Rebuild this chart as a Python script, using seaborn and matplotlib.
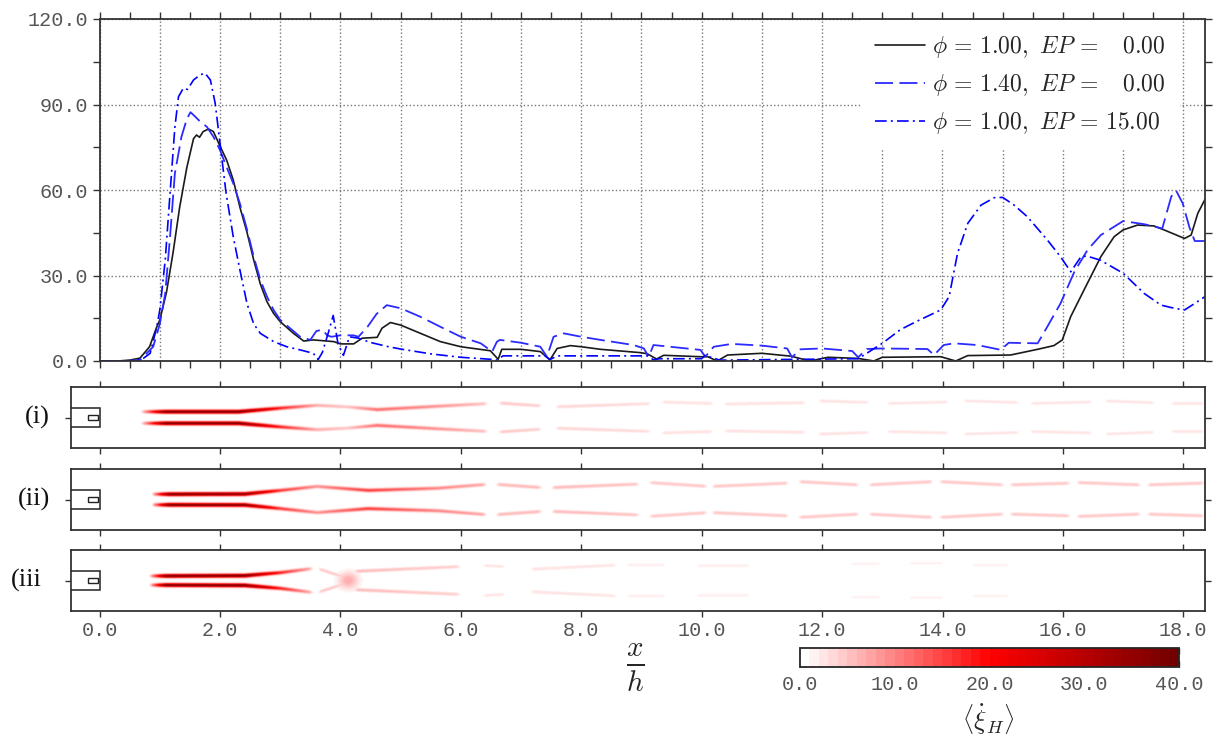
import numpy as np
import matplotlib
matplotlib.use('Agg')
import matplotlib.pyplot as plt
from matplotlib.colors import LinearSegmentedColormap
from matplotlib.patches import Rectangle
from matplotlib.ticker import MultipleLocator, FormatStrFormatter
import seaborn as sns

# ---------------- top panel: values ----------------
x_base = [0, 0.3, 0.5, 0.67, 0.83, 0.95, 1.0, 1.11, 1.22, 1.33,
          1.45, 1.56, 1.61, 1.66, 1.72, 1.81, 1.89, 2.0, 2.11, 2.22,
          2.33, 2.45, 2.56, 2.67, 2.78, 2.89, 3.0, 3.22, 3.39, 3.55,
          3.89, 4.0, 4.22, 4.36, 4.61, 4.69, 4.83, 5.0, 5.33, 5.66,
          6.0, 6.49, 6.62, 6.68, 7.0, 7.32, 7.48, 7.6, 7.82, 8.0,
          8.32, 9.0, 9.1, 9.25, 9.37, 9.98, 10.1, 10.26, 10.43, 11.0,
          11.48, 11.8, 12.1, 12.6, 12.86, 13.0, 13.97, 14.22, 14.42, 15.13,
          15.58, 15.85, 15.99, 16.13, 16.35, 16.63, 16.85, 17.0, 17.24, 17.51,
          17.68, 18.02, 18.13, 18.24, 18.36]
y_base = [0, 0, 0.3, 1, 5, 12, 14.4, 24, 38, 54,
          68, 78, 79.3, 78.5, 80.5, 81.4, 80.5, 75.4, 70.5, 63.5,
          54, 45, 35.4, 27, 20.8, 16.7, 13.8, 9.7, 7, 7.4,
          6.8, 6.0, 6.0, 8, 8.3, 11.5, 13.5, 12.6, 9.7, 6.8,
          5, 3.6, 0.6, 4.1, 4.1, 3.3, 0.4, 4.4, 5.4, 5,
          4.1, 2.9, 2.5, 0.7, 2, 1.5, 1.5, 0, 2.1, 2.7,
          1.7, 0, 1.3, 0.9, 0, 1.3, 1.5, 0, 1.9, 2.1,
          4.1, 5.4, 7.4, 15.6, 24.9, 36.6, 43.6, 46, 47.7, 47.4,
          46, 43, 44.2, 51.8, 56.7]

x_rich = [0, 0.4, 0.67, 0.89, 1.0, 1.09, 1.17, 1.25, 1.36, 1.45,
          1.51, 1.59, 1.67, 1.78, 1.89, 2.0, 2.11, 2.22, 2.33, 2.45,
          2.56, 2.67, 2.78, 2.89, 3.0, 3.22, 3.33, 3.5, 3.6, 3.7,
          3.78, 3.85, 4.0, 4.22, 4.3, 4.45, 4.6, 4.77, 5.0, 5.33,
          5.66, 6.0, 6.33, 6.52, 6.6, 6.65, 7.0, 7.32, 7.43, 7.54,
          7.71, 8.0, 8.32, 8.87, 9.04, 9.12, 9.2, 9.98, 10.06, 10.2,
          10.5, 11.0, 11.42, 11.5, 11.64, 12.0, 12.5, 12.6, 12.74, 13.0,
          13.75, 13.86, 14.02, 14.19, 14.58, 14.97, 15.1, 15.58, 15.74, 15.96,
          16.19, 16.41, 16.63, 17.0, 17.35, 17.65, 17.8, 17.88, 17.99, 18.1,
          18.19, 18.36]
y_rich = [0, 0, 0.3, 5, 13, 23.7, 43.6, 65.8, 78.7, 85,
          87.3, 85.7, 84, 82.2, 78.7, 74, 68, 62.3, 55.3, 46,
          36.6, 28.4, 22.6, 17.9, 14.4, 10.5, 8.5, 7.4, 10.5, 11,
          9, 8.5, 9, 9, 8.5, 12, 16.5, 19.6, 18.5, 15.5,
          12, 8.5, 6.2, 3.3, 6.8, 7.4, 6.4, 5, 1.5, 8.5,
          9.7, 8.5, 7.4, 5.6, 4.4, 1.5, 5.6, 3.9, 1.5, 5,
          6, 5.4, 4.4, 1.3, 4.1, 4.4, 3.5, 1.3, 4.2, 4.4,
          4.2, 2.1, 5.6, 6.2, 5.6, 3.9, 6.4, 6.2, 12, 20.2,
          31.3, 39, 44.2, 49.1, 48, 46.5, 57.7, 59.8, 55.3, 47,
          42.1, 42.1]

x_ep = [0, 0.5, 0.7, 0.84, 0.95, 1.0, 1.09, 1.17, 1.25, 1.31,
        1.39, 1.46, 1.56, 1.67, 1.75, 1.84, 1.92, 2.0, 2.1, 2.22,
        2.33, 2.45, 2.56, 2.67, 2.89, 3.11, 3.33, 3.55, 3.63, 3.7,
        3.8, 3.88, 3.96, 4.05, 4.15, 4.3, 4.5, 4.8, 5.0, 5.5,
        6.0, 6.5, 6.6, 6.7, 7.4, 7.48, 7.6, 9.1, 9.2, 9.3,
        10.0, 10.06, 10.3, 12.6, 13.0, 13.3, 13.58, 13.97, 14.11, 14.25,
        14.42, 14.64, 14.86, 15.0, 15.19, 15.41, 15.74, 15.96, 16.13, 16.3,
        16.4, 16.62, 17.0, 17.35, 17.63, 17.85, 18.02, 18.19, 18.36]
y_ep = [0, 0, 0.5, 2.7, 12, 17.9, 35.4, 58.8, 82, 92.7,
        95.7, 95.3, 98.6, 100.4, 101, 98.6, 90.4, 76.4, 59, 43.6,
        32, 20, 13, 9.7, 6.8, 5, 3.9, 2.7, 0.5, 3,
        10, 16, 6, 2, 8.5, 8, 6.5, 5, 4.2, 2.5,
        1.3, 0.6, 0.3, 1.8, 1.8, 0.5, 1.8, 1.8, 0.4, 0.8,
        0.8, 2, 0.3, 0.8, 6.2, 11, 14, 17.9, 22.6, 37.8,
        48.3, 54.7, 57.3, 57.4, 54.7, 50.6, 42.5, 36.6, 31.3, 36.6,
        36.8, 35.4, 30.8, 23.7, 19.6, 18.5, 17.9, 20.2, 22.6]

labels = [r'$\phi\,=\,1.00,\ EP\,=\ \ \ 0.00$',
          r'$\phi\,=\,1.40,\ EP\,=\ \ \ 0.00$',
          r'$\phi\,=\,1.00,\ EP\,=\,15.00$']

# ---------------- strips: shear-layer segments (x0, x1, y0, y1, val0, val1) ----------------
jet_i = [(0.64, 1.1, 0.19, 0.19, 0, 38), (1.1, 2.3, 0.19, 0.19, 38, 38),
         (2.3, 3.0, 0.19, 0.31, 38, 18), (3.0, 3.6, 0.31, 0.40, 18, 7),
         (3.6, 4.1, 0.40, 0.35, 7, 5), (4.1, 4.6, 0.35, 0.26, 5, 12),
         (4.6, 5.6, 0.26, 0.37, 12, 9), (5.6, 6.45, 0.37, 0.46, 9, 5),
         (6.6, 7.35, 0.48, 0.38, 5, 4), (7.55, 9.17, 0.35, 0.46, 4, 3),
         (9.3, 10.2, 0.51, 0.46, 3, 3), (10.34, 11.74, 0.44, 0.49, 3, 3),
         (11.9, 12.8, 0.55, 0.49, 3, 2.5), (13.04, 14.12, 0.46, 0.51, 2.5, 2.5),
         (14.31, 15.29, 0.55, 0.49, 2.5, 2.5), (15.42, 16.5, 0.46, 0.51, 2.5, 2.5),
         (16.66, 17.54, 0.55, 0.48, 2.5, 2.5), (17.76, 18.36, 0.46, 0.46, 2.5, 2.5)]
jet_ii = [(0.82, 1.15, 0.175, 0.175, 0, 38), (1.15, 2.4, 0.175, 0.18, 38, 36),
          (2.4, 3.0, 0.18, 0.30, 36, 16), (3.0, 3.6, 0.30, 0.43, 16, 9),
          (3.6, 4.45, 0.43, 0.30, 9, 16), (4.45, 5.6, 0.30, 0.37, 16, 10),
          (5.6, 6.43, 0.37, 0.50, 10, 7), (6.56, 7.35, 0.50, 0.39, 6, 6),
          (7.48, 8.97, 0.39, 0.51, 6, 5), (9.1, 10.1, 0.56, 0.43, 5, 5),
          (10.14, 11.45, 0.43, 0.54, 5, 5), (11.58, 12.62, 0.59, 0.48, 5, 5),
          (12.75, 13.85, 0.48, 0.59, 5, 5), (13.92, 15.03, 0.59, 0.48, 5, 5),
          (15.09, 16.13, 0.48, 0.54, 5, 5), (16.2, 17.3, 0.56, 0.48, 5, 5),
          (17.37, 18.36, 0.48, 0.54, 5, 5)]
jet_iii = [(0.78, 1.1, 0.15, 0.15, 0, 38), (1.1, 2.4, 0.15, 0.16, 38, 38),
           (2.4, 3.0, 0.16, 0.26, 38, 18), (3.0, 3.55, 0.26, 0.40, 18, 6),
           (3.6, 4.1, 0.40, 0.08, 5, 4), (4.2, 6.0, 0.30, 0.46, 6, 4),
           (6.33, 6.75, 0.50, 0.45, 2.5, 2.5), (7.13, 8.6, 0.37, 0.51, 3, 2.5),
           (8.71, 9.42, 0.51, 0.51, 2, 2), (9.88, 10.82, 0.49, 0.49, 2, 2),
           (12.42, 13.0, 0.55, 0.55, 1.5, 1.5), (13.4, 14.05, 0.57, 0.57, 1.5, 1.5),
           (14.44, 15.13, 0.51, 0.51, 1.5, 1.5)]
blobs_iii = [(4.12, 0.0, 0.12, 0.2, 7)]
panel_names = ['(i)', '(ii)', '(iii']

X_MIN, X_MAX = -0.48, 18.36
SIG = 0.042


def build_field(segments, blobs=()):
    xs = np.linspace(X_MIN, X_MAX, 1400)
    ys = np.linspace(-1, 1, 241)
    X, Y = np.meshgrid(xs, ys)
    field = np.zeros_like(X)
    n = len(segments)
    for k, (x0, x1, y0, y1, v0, v1) in enumerate(segments):
        t = np.clip((X - x0) / (x1 - x0), 0, 1)
        inside = (X >= x0) & (X <= x1)
        # soften only the ends that sit next to a break in the layer
        open_left = k == 0 or segments[k - 1][1] < x0 - 0.01
        open_right = k == n - 1 or segments[k + 1][0] > x1 + 0.01
        taper = np.ones_like(X)
        if open_left:
            taper = np.minimum(taper, np.clip((X - x0) / 0.08, 0, 1))
        if open_right:
            taper = np.minimum(taper, np.clip((x1 - X) / 0.08, 0, 1))
        yc = y0 + (y1 - y0) * t
        v = (v0 + (v1 - v0) * t) * taper
        for sgn in (1, -1):
            prof = np.where(inside, v * np.exp(-0.5 * ((Y - sgn * yc) / SIG) ** 2), 0)
            field = np.maximum(field, prof)
    for bx, by, rx, ry, bv in blobs:
        field = np.maximum(field, bv * np.exp(-0.5 * (((X - bx) / rx) ** 2 + ((Y - by) / ry) ** 2)))
    return field


sns.set_style('white')
plt.rcParams['mathtext.fontset'] = 'cm'
tick_font = {'family': 'Liberation Mono', 'size': 14.5}
tick_color = '#555555'

cmap = LinearSegmentedColormap.from_list('wr', ['#ffffff', '#ff0000', '#730000'], N=40)

W, H = 1214, 740
fig = plt.figure(figsize=(W / 100, H / 100), dpi=100)

# ---------------- top line plot ----------------
ax = fig.add_axes([99.6 / W, 1 - 361 / H, (1205 - 99.6) / W, 342 / H])
sns.lineplot(x=x_base, y=y_base, ax=ax, color='#1a1a1a', lw=1.2, label=labels[0],
             estimator=None, sort=False)
sns.lineplot(x=x_rich, y=y_rich, ax=ax, color='#2b2bff', lw=1.3, label=labels[1],
             estimator=None, sort=False, linestyle=(0, (10, 3.5)))
sns.lineplot(x=x_ep, y=y_ep, ax=ax, color='#0000ff', lw=1.2, label=labels[2],
             estimator=None, sort=False, linestyle=(0, (7, 2.5, 1.2, 2.5)))
ax.set_xlim(0, X_MAX)
ax.set_ylim(0, 120)
ax.xaxis.set_major_locator(MultipleLocator(1.0))
ax.xaxis.set_minor_locator(MultipleLocator(0.5))
ax.yaxis.set_major_locator(MultipleLocator(30))
ax.yaxis.set_minor_locator(MultipleLocator(15))
ax.yaxis.set_major_formatter(FormatStrFormatter('%.1f'))
ax.grid(True, which='major', linestyle=':', color='#777777', lw=1)
ax.tick_params(which='both', direction='out', length=5, width=1, top=True, right=True,
               left=True, bottom=True, labelbottom=False, colors='#333333')
ax.tick_params(axis='y', labelcolor=tick_color)
for lab in ax.get_yticklabels():
    lab.set_fontfamily(tick_font['family'])
    lab.set_fontsize(tick_font['size'])
for sp in ax.spines.values():
    sp.set_linewidth(1.3)
    sp.set_color('#333333')
ax.set_xlabel('')
ax.set_ylabel('')
leg = ax.legend(loc='upper right', fontsize=17, frameon=True, framealpha=1,
                edgecolor='none', facecolor='white', handlelength=2.1,
                handletextpad=0.3, labelspacing=0.5, borderaxespad=0.05,
                borderpad=0.6, bbox_to_anchor=(0.978, 1.0))
leg.get_frame().set_boxstyle('square', pad=0.0)

# ---------------- strips ----------------
strip_bottoms = [448, 530, 611]
fields = [build_field(jet_i), build_field(jet_ii), build_field(jet_iii, blobs_iii)]
left = (99.6 + X_MIN * 60.15) / W
width = (1205 - 99.6 - X_MIN * 60.15) / W
im = None
for k, (fb, fld, name) in enumerate(zip(strip_bottoms, fields, panel_names)):
    sax = fig.add_axes([left, 1 - fb / H, width, 61 / H])
    im = sax.imshow(fld, extent=[X_MIN, X_MAX, -1, 1], origin='lower', aspect='auto',
                    cmap=cmap, vmin=0, vmax=40, interpolation='bilinear')
    sax.add_patch(Rectangle((X_MIN, -0.31), -X_MIN, 0.62, facecolor='white',
                            edgecolor='#222222', lw=1.1, zorder=3))
    sax.add_patch(Rectangle((-0.19, -0.09), 0.17, 0.18, facecolor='white',
                            edgecolor='#222222', lw=1.0, zorder=4))
    sax.set_xlim(X_MIN, X_MAX)
    sax.set_ylim(-1, 1)
    sax.set_xticks(np.arange(0, 18.1, 2))
    sax.set_yticks([0])
    sax.set_yticklabels([])
    sax.tick_params(direction='out', length=4, width=1, top=True, bottom=True,
                    left=True, right=True, colors='#333333',
                    labelbottom=(k == 2), labelcolor=tick_color)
    sax.xaxis.set_major_formatter(FormatStrFormatter('%.1f'))
    for lab in sax.get_xticklabels():
        lab.set_fontfamily(tick_font['family'])
        lab.set_fontsize(tick_font['size'])
    for sp in sax.spines.values():
        sp.set_linewidth(1.3)
        sp.set_color('#333333')
    cy = 1 - (fb - 30.5) / H
    fig.text((50 if k < 2 else 42) / W, cy, name, ha='right', va='center',
             fontsize=19, family='Liberation Serif', color='#111111')

# ---------------- labels and colorbar ----------------
fig.text(635 / W, 1 - 668 / H, r'$\frac{x}{h}$', ha='center', va='center', fontsize=30)

cax = fig.add_axes([800 / W, 1 - 667 / H, 379 / W, 19 / H])
cb = fig.colorbar(im, cax=cax, orientation='horizontal')
cb.set_ticks([0, 10, 20, 30, 40])
cb.ax.xaxis.set_major_formatter(FormatStrFormatter('%.1f'))
cb.ax.tick_params(direction='in', length=4, width=1, top=True, bottom=True,
                  colors='#222222', labelcolor=tick_color, pad=6)
for lab in cb.ax.get_xticklabels():
    lab.set_fontfamily(tick_font['family'])
    lab.set_fontsize(tick_font['size'])
cb.outline.set_linewidth(1.3)
fig.text(988 / W, 1 - 720 / H, r'$\left\langle \dot{\xi}_H \right\rangle$',
         ha='center', va='center', fontsize=19)

fig.savefig('out.png', dpi=100, facecolor='white')
